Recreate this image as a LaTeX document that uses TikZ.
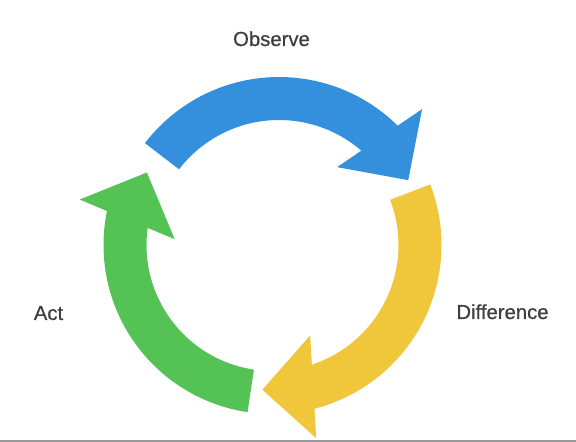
\documentclass[tikz,border=0pt]{standalone}
\usepackage{fontspec}
\setmainfont{Liberation Sans}[FakeBold=0.6]
\definecolor{cblue}{HTML}{3490DC}
\definecolor{cyellow}{HTML}{F0C63A}
\definecolor{cgreen}{HTML}{54C254}
\definecolor{ctext}{HTML}{3E3E3E}
\definecolor{cline}{HTML}{999999}
% #1 centre, #2 span from head base to tail (deg), #3 head base angle, #4 colour
\newcommand\cyclearrow[4]{%
  \begin{scope}[shift={#1}, rotate=#3]
    \fill[#4] (#2:169pt) arc[start angle=#2, end angle=-1.6, radius=169pt]
      -- (197.7pt,-11.3pt) -- (136.3pt,-49.6pt) -- (97.3pt,11.3pt)
      -- (2.2:126pt) arc[start angle=2.2, end angle=#2, radius=126pt] -- cycle;
  \end{scope}}
\tikzset{lbl/.style={anchor=base, inner sep=0pt, text=ctext,
  font=\fontsize{20.3}{22}\selectfont}}
\begin{document}
\begin{tikzpicture}[x=1pt,y=1pt]
  \useasboundingbox (0,0) rectangle (576,442);
  \fill[white] (0,0) rectangle (576,442);
  \cyclearrow{(279pt,196pt)}{95.5}{47}{cblue}
  \cyclearrow{(272.5pt,197pt)}{95}{-74}{cyellow}
  \cyclearrow{(272.5pt,197pt)}{91.5}{170}{cgreen}
  \node[lbl] (observe) at (271.5,396) {Observe};
  \node[lbl] (difference) at (502.5,123) {Difference};
  \node[lbl] (act) at (48.5,122) {Act};
  \draw[cline, line width=1.5pt] (0,1.2) -- (576,1.2);
\end{tikzpicture}
\end{document}
